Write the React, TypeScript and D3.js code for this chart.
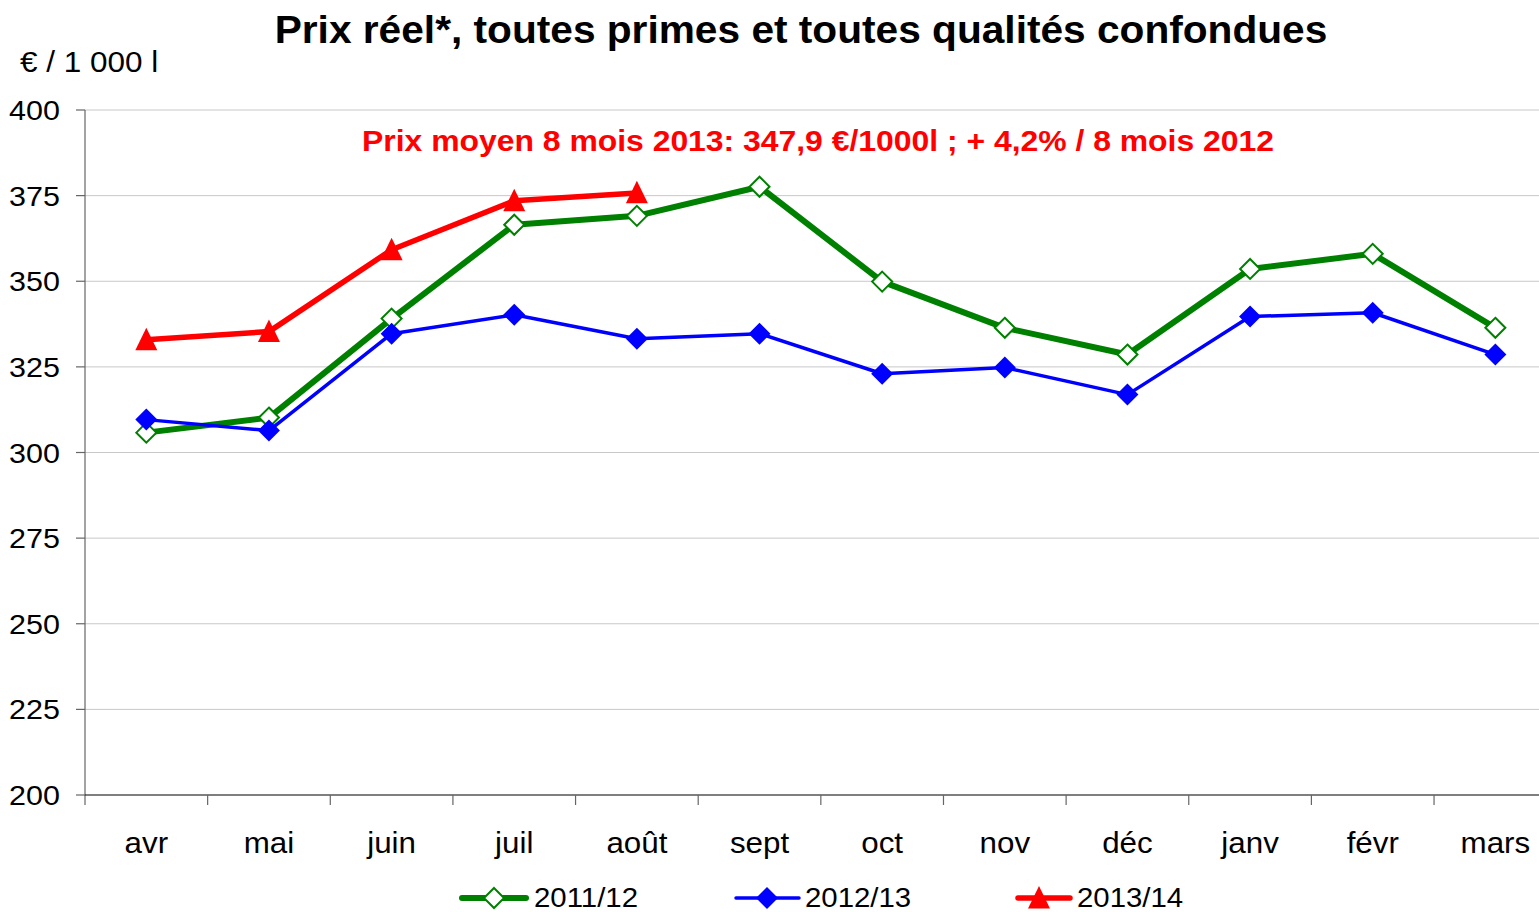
import React from 'react'
import * as d3 from 'd3'

const months = ['avr', 'mai', 'juin', 'juil', 'août', 'sept', 'oct', 'nov', 'déc', 'janv', 'févr', 'mars']
const s2011 = [305.8, 310.2, 339.1, 366.5, 369.1, 377.6, 349.9, 336.4, 328.6, 353.6, 358.0, 336.4]
const s2012 = [309.6, 306.4, 334.7, 340.2, 333.2, 334.7, 323.0, 324.8, 316.9, 339.7, 340.8, 328.6]
const s2013 = [332.9, 335.3, 359.2, 373.5, 375.8]
const yTicks = [200, 225, 250, 275, 300, 325, 350, 375, 400]

const W = 1539
const H = 912
const FONT = '"Liberation Sans", Arial, sans-serif'

const diamond = (cx: number, cy: number, r: number) =>
  `M${cx},${cy - r}L${cx + r},${cy}L${cx},${cy + r}L${cx - r},${cy}Z`
const triangle = (cx: number, cy: number, r: number) =>
  `M${cx},${cy - r * 1.1}L${cx + r},${cy + r * 0.95}L${cx - r},${cy + r * 0.95}Z`

// text slightly stretched horizontally, like the original export
function T({ x, y, sx = 1.1, children, ...rest }: any) {
  return (
    <text transform={`translate(${x},${y}) scale(${sx},1)`} {...rest}>{children}</text>
  )
}

export default function App() {
  const x = d3.scaleBand<string>().domain(months).range([85, 85 + 12 * 122.64])
  const y = d3.scaleLinear().domain([200, 400]).range([795, 110])
  const cx = (m: string) => (x(m) ?? 0) + x.bandwidth() / 2

  const line = d3.line<number>()
    .x((_, i) => cx(months[i]))
    .y(d => y(d))

  return (
    <svg width={W} height={H} style={{ display: 'block', position: 'absolute', left: 0, top: 0 }} fontFamily={FONT}>
      <rect width={W} height={H} fill="#fff" />
      <T x={801} y={43} sx={1.07} textAnchor="middle" fontSize={38} fontWeight="bold">
        Prix réel*, toutes primes et toutes qualités confondues
      </T>
      <T x={20} y={72} sx={1.05} fontSize={30}>€ / 1 000 l</T>

      {/* gridlines */}
      {yTicks.filter(t => t > 200).map(t => (
        <line key={t} x1={85} x2={W} y1={y(t)} y2={y(t)} stroke="#c8c8c8" strokeWidth={1} />
      ))}
      {/* y axis */}
      <line x1={85} x2={85} y1={110} y2={796} stroke="#666" strokeWidth={1.2} />
      {yTicks.map(t => (
        <g key={t}>
          <line x1={76} x2={85} y1={y(t)} y2={y(t)} stroke="#666" strokeWidth={1.2} />
          <T x={60} y={y(t) + 10} sx={1.09} textAnchor="end" fontSize={28}>{t}</T>
        </g>
      ))}
      {/* x axis */}
      <line x1={85} x2={W} y1={795} y2={795} stroke="#000" strokeWidth={1.2} />
      {months.map(m => (
        <g key={m}>
          <line x1={x(m)} x2={x(m)} y1={795} y2={805} stroke="#666" strokeWidth={1.2} />
          <T x={cx(m)} y={853} sx={1.08} textAnchor="middle" fontSize={29}>{m}</T>
        </g>
      ))}

      <T x={818} y={151} sx={1.1} textAnchor="middle" fontSize={29} fontWeight="bold" fill="#ff0000">
        Prix moyen 8 mois 2013: 347,9 €/1000l ; + 4,2% / 8 mois 2012
      </T>

      {/* series */}
      <path d={line(s2011) ?? ''} fill="none" stroke="#008000" strokeWidth={6} strokeLinejoin="round" />
      <path d={line(s2012) ?? ''} fill="none" stroke="#0000ff" strokeWidth={3.5} strokeLinejoin="round" />
      <path d={line(s2013) ?? ''} fill="none" stroke="#ff0000" strokeWidth={5.5} strokeLinejoin="round" />
      {s2011.map((v, i) => (
        <path key={i} d={diamond(cx(months[i]), y(v), 10)} fill="#fff" stroke="#008000" strokeWidth={2} />
      ))}
      {s2012.map((v, i) => (
        <path key={i} d={diamond(cx(months[i]), y(v), 11)} fill="#0000ff" />
      ))}
      {s2013.map((v, i) => (
        <path key={i} d={triangle(cx(months[i]), y(v), 11)} fill="#ff0000" />
      ))}

      {/* legend */}
      <g>
        <line x1={462} x2={526} y1={898} y2={898} stroke="#008000" strokeWidth={6} strokeLinecap="round" />
        <path d={diamond(494, 898, 10)} fill="#fff" stroke="#008000" strokeWidth={2} />
        <T x={534} y={907} sx={1.05} fontSize={28}>2011/12</T>
        <line x1={736} x2={799} y1={898} y2={898} stroke="#0000ff" strokeWidth={3.5} strokeLinecap="round" />
        <path d={diamond(767, 898, 11)} fill="#0000ff" />
        <T x={805} y={907} sx={1.05} fontSize={28}>2012/13</T>
        <line x1={1018} x2={1070} y1={898} y2={898} stroke="#ff0000" strokeWidth={5.5} strokeLinecap="round" />
        <path d={triangle(1039, 898, 11)} fill="#ff0000" />
        <T x={1077} y={907} sx={1.05} fontSize={28}>2013/14</T>
      </g>
    </svg>
  )
}
